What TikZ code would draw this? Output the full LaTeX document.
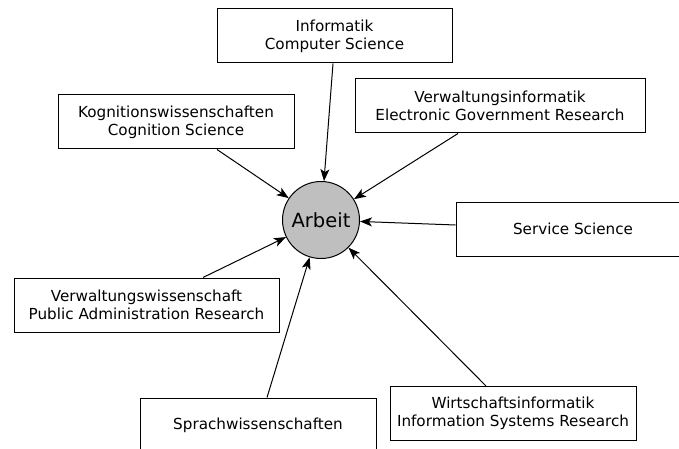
\documentclass[tikz,border=0pt]{standalone}
\usepackage{fontspec}
\setmainfont{DejaVu Sans}
\usetikzlibrary{arrows.meta}
\tikzset{
	fach/.style={draw=black, line width=1pt, align=center, inner sep=0pt, minimum height=54pt, font=\fontsize{15.2}{18}\selectfont},
	kern/.style={draw=black, line width=1pt, circle, fill=black!25, minimum size=77pt, inner sep=0pt, font=\fontsize{19.5}{22}\selectfont},
	pfeil/.style={line width=1pt, -{Stealth[length=12pt, width=9pt, inset=3pt]}}
}

\begin{document}
\begin{tikzpicture}[x=1pt, y=-1pt]
			%%%%% START %%%%%
			\useasboundingbox (0, 0) rectangle (679, 449);
			\clip (0, 0) rectangle (679, 449);
			
			\node[kern] (arbeit) at (321, 220) {Arbeit};
			
			\node[fach, minimum width=235pt] (inf) at (334.5, 36) {Informatik\\Computer Science};
			\node[fach, minimum width=236pt] (kog) at (176, 122) {Kognitionswissenschaften\\Cognition Science};
			\node[fach, minimum width=290pt] (vinf) at (500, 106) {Verwaltungsinformatik\\Electronic Government Research};
			\node[fach, minimum width=234pt] (serv) at (573, 229) {Service Science};
			\node[fach, minimum width=265pt] (vwiss) at (146.5, 305) {Verwaltungswissenschaft\\Public Administration Research};
			\node[fach, minimum width=236pt] (sprach) at (258, 425) {Sprachwissenschaften};
			\node[fach, minimum width=246pt] (wirt) at (513, 413.5) {Wirtschaftsinformatik\\Information Systems Research};
			
			\draw[pfeil] ([xshift=-1.5pt]inf.south) -- (arbeit);
			\draw[pfeil] ([xshift=41pt]kog.south) -- (arbeit);
			\draw[pfeil] ([xshift=-42pt]vinf.south) -- (arbeit);
			\draw[pfeil] ([yshift=4pt]serv.west) -- (arbeit);
			\draw[pfeil] ([xshift=-27pt]wirt.north) -- (arbeit);
			\draw[pfeil] ([xshift=9pt]sprach.north) -- (arbeit);
			\draw[pfeil] ([xshift=56.5pt]vwiss.north) -- (arbeit);
			
			%%%%% END %%%%%
		\end{tikzpicture}
\end{document}
